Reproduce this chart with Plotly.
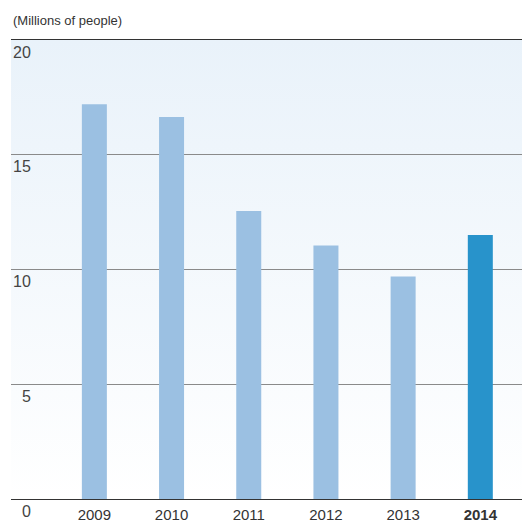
import base64
import plotly.graph_objects as go

years = ["2009", "2010", "2011", "2012", "2013", "2014"]
values = [17.2, 16.65, 12.55, 11.05, 9.7, 11.5]
bar_colors = ["#9bc0e2", "#9bc0e2", "#9bc0e2", "#9bc0e2", "#9bc0e2", "#2893cb"]
tick_vals = [0, 5, 10, 15, 20]
tick_text = ["0", "5", "10", "15", "20"]
unit_label = "(Millions of people)"

W, H = 522, 523
ML, MR, MT, MB = 11, 0, 40, 24

svg = (
    '<svg xmlns="http://www.w3.org/2000/svg" width="100" height="100" preserveAspectRatio="none">'
    '<defs><linearGradient id="g" x1="0" y1="0" x2="0" y2="1">'
    '<stop offset="0" stop-color="#e9f2fa"/>'
    '<stop offset="1" stop-color="#ffffff"/>'
    '</linearGradient></defs>'
    '<rect width="100" height="100" fill="url(#g)"/></svg>'
)
src = "data:image/svg+xml;base64," + base64.b64encode(svg.encode()).decode()

fig = go.Figure()
fig.add_trace(go.Bar(
    x=list(range(len(years))), y=values,
    marker=dict(color=bar_colors, line=dict(width=0)),
    width=0.324, hoverinfo="skip",
))

fig.update_layout(
    width=W, height=H,
    margin=dict(l=ML, r=MR, t=MT, b=MB, pad=0),
    paper_bgcolor="white",
    plot_bgcolor="rgba(0,0,0,0)",
    showlegend=False,
    font=dict(family="Liberation Sans, Arial, sans-serif", color="#444", size=16),
    xaxis=dict(
        range=[-1.08, 5.54], tickmode="array",
        tickvals=list(range(len(years))),
        ticktext=[y if y != "2014" else "<b>2014</b>" for y in years],
        showgrid=False, zeroline=False,
        showline=True, mirror=True, linecolor="#333", linewidth=1.3,
        ticks="", tickfont=dict(size=15, color="#333"),
        ticklabelstandoff=2, automargin=False,
        fixedrange=True,
    ),
    yaxis=dict(
        range=[0, 20], showticklabels=False, ticks="",
        tickvals=tick_vals, automargin=False,
        showgrid=True, gridcolor="#8a8a8a", gridwidth=1.3,
        zeroline=False, showline=False, fixedrange=True,
    ),
    images=[dict(
        source=src, xref="paper", yref="paper", x=0, y=1,
        sizex=1, sizey=1, sizing="stretch", xanchor="left", yanchor="top",
        layer="below",
    )],
)

for v, t in zip(tick_vals, tick_text):
    fig.add_annotation(
        x=(33 - ML) / (W - ML - MR), xref="paper", y=v, yref="y",
        text=t, showarrow=False, xanchor="right", yanchor="middle",
        yshift=-12, font=dict(size=16, color="#444"),
    )

fig.add_annotation(
    x=0, xref="paper", xshift=-ML + 11, y=1, yref="paper", yshift=20,
    text=unit_label, showarrow=False, xanchor="left", yanchor="middle",
    font=dict(size=13, color="#333"),
)

fig.write_html("out.html", config={"displayModeBar": False})
